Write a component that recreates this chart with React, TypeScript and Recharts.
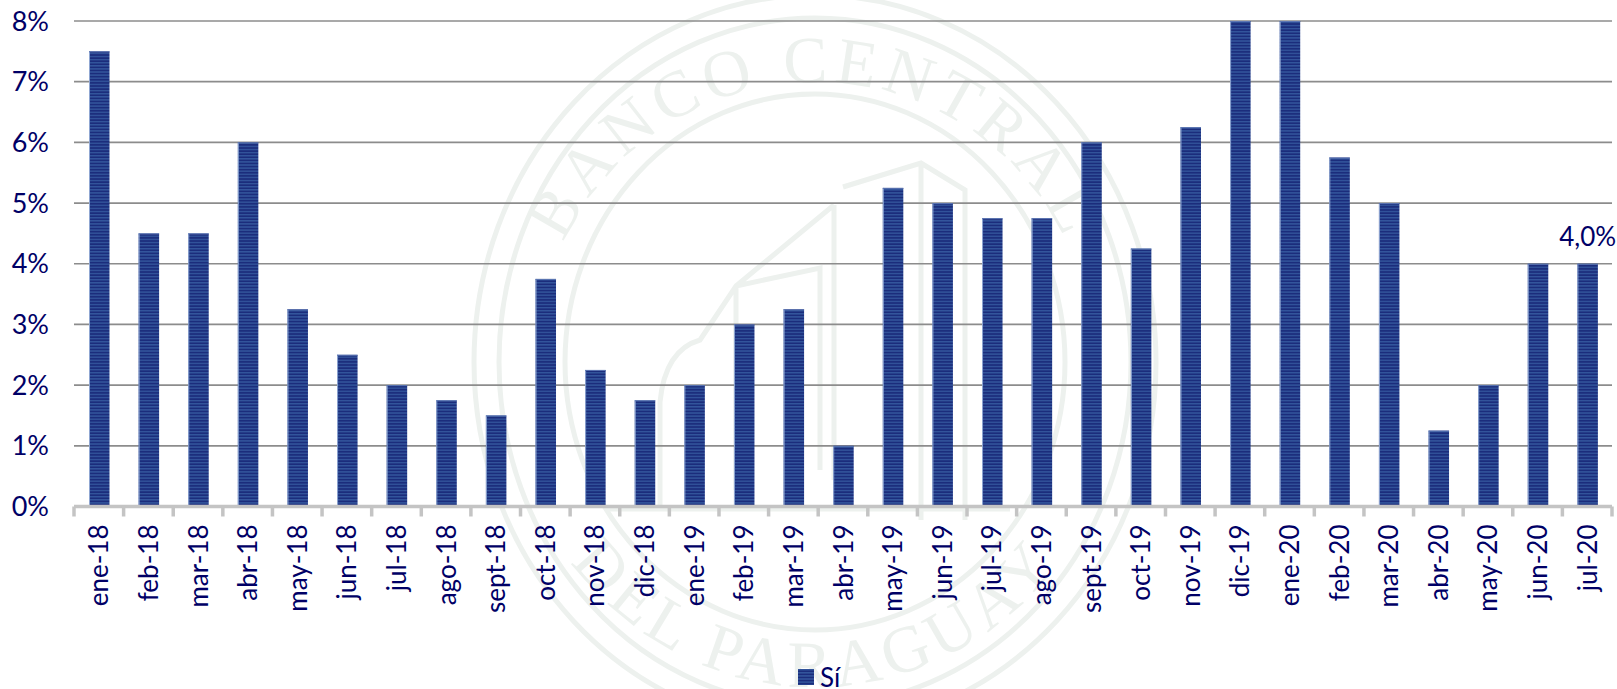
import React from "react";
import { BarChart, Bar, XAxis, YAxis, CartesianGrid, Legend, LabelList } from "recharts";

const months = ["ene-18","feb-18","mar-18","abr-18","may-18","jun-18","jul-18","ago-18","sept-18","oct-18","nov-18","dic-18","ene-19","feb-19","mar-19","abr-19","may-19","jun-19","jul-19","ago-19","sept-19","oct-19","nov-19","dic-19","ene-20","feb-20","mar-20","abr-20","may-20","jun-20","jul-20"];
const si = [7.5,4.5,4.5,6,3.25,2.5,2,1.75,1.5,3.75,2.25,1.75,2,3,3.25,1,5.25,5,4.75,4.75,6,4.25,6.25,8,8,5.75,5,1.25,2,4,4];
const yTicks = [0,1,2,3,4,5,6,7,8];
const rows = months.map((m, i) => ({ m, si: si[i] }));
const NAVY = "#000066";
const FONT = "Lato, 'Open Sans', sans-serif";
const AXIS = "#c4c4c4";
const WM = "#edf1ee";

const XTick = (p: any) => {
  const band = p.width / p.visibleTicksCount;
  const left = p.x - band / 2;
  const y0 = p.y;
  return (
    <g>
      <line x1={left} x2={left} y1={y0} y2={y0 + 10} stroke={AXIS} strokeWidth={3.5} />
      {p.index === p.visibleTicksCount - 1 ? <line x1={left + band} x2={left + band} y1={y0} y2={y0 + 10} stroke={AXIS} strokeWidth={3.5} /> : null}
      <text x={p.x} y={y0 + 18} transform={`rotate(-90 ${p.x} ${y0 + 18})`} textAnchor="end" dy={9.5} fontSize={26} fontFamily={FONT} fill={NAVY}>{p.payload.value}</text>
    </g>
  );
};

const StripedBar = (p: any) => (
  <g>
    <rect x={p.x} y={p.y} width={p.width} height={p.height} fill="url(#st)" />
    <line x1={p.x + 0.5} x2={p.x + 0.5} y1={p.y} y2={p.y + p.height} stroke="#8fa6d2" strokeWidth={1} />
    <line x1={p.x} x2={p.x + p.width} y1={p.y + 0.5} y2={p.y + 0.5} stroke="#5d77b3" strokeWidth={1} />
  </g>
);

const LegendBox = () => (
  <div style={{ display: "flex", alignItems: "center", height: 24, fontFamily: FONT, fontSize: 26, color: NAVY, lineHeight: "24px" }}>
    <svg width={16} height={16} style={{ marginRight: 6 }}>
      <rect width={16} height={16} fill="url(#st)" />
    </svg>
    <span>Sí</span>
  </div>
);

const Watermark = () => (
  <svg width={1617} height={689} style={{ position: "absolute", left: 0, top: 0 }}>
    <defs>
      <path id="arcTop" d="M 537 362 A 278 280 0 0 1 1093 362" />
      <path id="arcBot" d="M 505 362 A 310 325 0 0 0 1125 362" />
    </defs>
    <g fill="none" stroke={WM} strokeWidth={5}>
      <ellipse cx={815} cy={362} rx={341} ry={367} />
      <ellipse cx={815} cy={362} rx={316} ry={344} />
      <ellipse cx={815} cy={362} rx={250} ry={268} />
      <path d="M 660 505 L 660 402 Q 665 350 700 340 L 736 286 L 820 268 L 820 470 M 736 286 L 736 490 M 834 205 L 834 480 M 843 187 L 921 163 L 965 190 L 965 520 M 921 163 L 921 520 M 834 205 L 736 286 M 606 509 L 1010 509" />
    </g>
    <g fontFamily="'Liberation Serif', serif" fontSize={66} fill={WM} letterSpacing={6}>
      <text textAnchor="middle"><textPath href="#arcTop" startOffset="50%">BANCO CENTRAL</textPath></text>
      <text textAnchor="middle"><textPath href="#arcBot" startOffset="50%">DEL PARAGUAY</textPath></text>
    </g>
  </svg>
);

export default function App() {
  return (
    <div style={{ position: "absolute", left: 0, top: 0, width: 1617, height: 689, overflow: "hidden" }}>
      <Watermark />
      <div style={{ position: "absolute", left: 0, top: 0 }}>
        <BarChart width={1617} height={689} data={rows} barSize={20.5} margin={{ top: 21, right: 5, bottom: 0, left: 0 }}>
          <defs>
            <pattern id="st" width="3.1" height="3.1" patternUnits="userSpaceOnUse">
              <rect width="3.1" height="3.1" fill="#1b2d7c" />
              <rect width="3.1" height="1.4" fill="#33559c" />
            </pattern>
          </defs>
          <CartesianGrid horizontal vertical={false} stroke="#8c8c8c" strokeWidth={1.7} />
          <XAxis dataKey="m" interval={0} height={152.5} tick={<XTick />} tickSize={0} tickMargin={0} tickLine={false} axisLine={{ stroke: AXIS, strokeWidth: 3.5 }} />
          <YAxis width={74} domain={[0, 8]} ticks={yTicks} interval={0} axisLine={false} tickLine={false} tickSize={0} tickMargin={25} tickFormatter={(v: number) => `${v}%`} tick={{ fontSize: 27, fontFamily: FONT, fill: NAVY }} />
          <Bar dataKey="si" name="Sí" fill="url(#st)" shape={<StripedBar />} isAnimationActive={false}>
            <LabelList dataKey="si" content={(p: any) => p.index === rows.length - 1 ? <text x={p.x + p.width / 2} y={p.y - 18} textAnchor="middle" fontSize={26} fontFamily={FONT} fill={NAVY}>4,0%</text> : null} />
          </Bar>
          <Legend height={30} content={<LegendBox />} wrapperStyle={{ left: 798, top: 665, width: 60, bottom: "auto" }} />
        </BarChart>
      </div>
    </div>
  );
}
